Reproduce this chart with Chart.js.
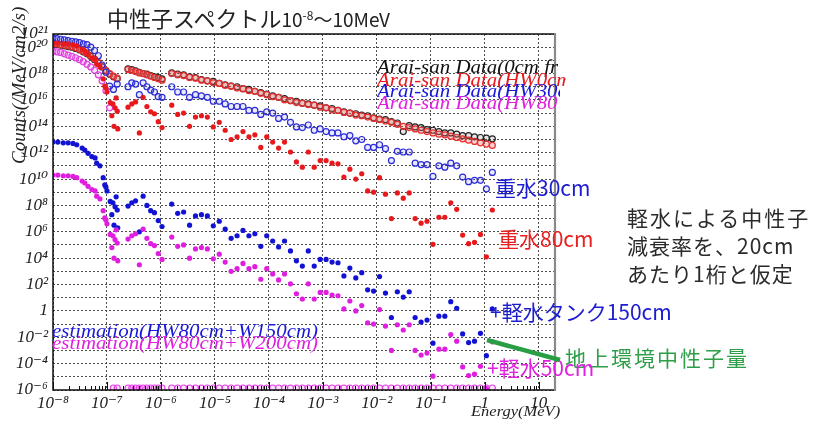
<!DOCTYPE html>
<html>
<head>
<meta charset="utf-8">
<script src="https://cdn.jsdelivr.net/npm/chart.js@4.4.1/dist/chart.umd.min.js"></script>
<style>
  body { margin: 0; background: #fff; width: 813px; height: 421px; overflow: hidden; position: relative; }
  canvas { position: absolute; left: 0; top: 0; }
  .txt { position: absolute; white-space: nowrap; line-height: 1; }
  .jp { font-family: 'Noto Sans CJK JP', 'Noto Sans', sans-serif; }
  .serif { font-family: 'Liberation Serif', 'DejaVu Serif', serif; font-style: italic; }
  .clip { position: absolute; overflow: hidden; height: 24px; }
  .wide { transform: scaleX(1.1); transform-origin: left top; }
</style>
</head>
<body>
<canvas id="spectrum" width="813" height="421"></canvas>

<div class="txt jp" style="left:107px; top:6px; font-size:22px; color:#222;">中性子スペクトル<span style="font-size:19px;">10<sup style="font-size:12px;">-8</sup>〜10MeV</span></div>

<div class="txt serif" style="left:9px; top:164px; font-size:19px; color:#222; transform-origin:left top; transform:rotate(-90deg);">Counts(/MeV/cm2/s)</div>
<div class="txt serif wide" style="left:471px; top:404px; font-size:15px; color:#222;">Energy(MeV)</div>

<div class="clip" style="left:377px; top:57px; width:181px;"><div class="txt serif wide" style="left:0; top:0; font-size:19px; color:#111;">Arai-san Data(0cm from</div></div>
<div class="clip" style="left:377px; top:70px; width:189px;"><div class="txt serif wide" style="left:0; top:0; font-size:19px; color:#e8191c;">Arai-san Data(HW0cm::</div></div>
<div class="clip" style="left:377px; top:81px; width:183px;"><div class="txt serif wide" style="left:0; top:0; font-size:19px; color:#1818dc;">Arai-san Data(HW30cm</div></div>
<div class="clip" style="left:377px; top:93px; width:181px;"><div class="txt serif wide" style="left:0; top:0; font-size:19px; color:#e020e0;">Arai-san Data(HW80cm</div></div>

<div class="txt serif wide" style="left:52px; top:321px; font-size:19px; color:#1818dc;">estimation(HW80cm+W150cm)</div>
<div class="txt serif wide" style="left:52px; top:333px; font-size:19px; color:#e020e0;">estimation(HW80cm+W200cm)</div>

<div class="txt jp" style="left:495px; top:177px; font-size:21px; color:#1c1cd0;">重水30cm</div>
<div class="txt jp" style="left:498px; top:228px; font-size:21px; color:#e82020;">重水80cm</div>
<div class="txt jp" style="left:627px; top:207px; font-size:21px; letter-spacing:2px; color:#2a2a2a;">軽水による中性子</div>
<div class="txt jp" style="left:627px; top:235px; font-size:21px; letter-spacing:1px; color:#2a2a2a;">減衰率を、20cm</div>
<div class="txt jp" style="left:627px; top:263px; font-size:21px; letter-spacing:1px; color:#2a2a2a;">あたり1桁と仮定</div>
<div class="txt jp" style="left:490px; top:301px; font-size:21px; color:#1c1cd0;">+軽水タンク150cm</div>
<div class="txt jp" style="left:565px; top:347px; font-size:21px; letter-spacing:2px; color:#2e9e48;">地上環境中性子量</div>
<div class="txt jp" style="left:487px; top:357px; font-size:21px; color:#e020e0;">+軽水50cm</div>

<svg style="position:absolute; left:0; top:0;" width="813" height="421">
  <line x1="487" y1="340" x2="560" y2="360" stroke="#2a9e45" stroke-width="4.5"/>
</svg>

<script>
// energies are log10(E / MeV), counts are log10(counts / MeV / cm2 / s)
const eLow = [-8.00, -7.93, -7.86, -7.79, -7.72, -7.65, -7.58, -7.51, -7.44, -7.37,
  -7.30, -7.23, -7.16, -7.09, -7.02, -6.95, -6.88, -6.81];
const eLowFilled = [-8.00, -7.91, -7.81, -7.72, -7.63, -7.56, -7.46, -7.41, -7.35, -7.28,
  -7.22, -7.19, -7.13, -7.07, -7.04, -7.02, -7.00, -6.94, -6.91, -6.89,
  -6.87, -6.85, -6.83, -6.81, -6.80];
const eMid = [-6.61, -6.54, -6.47, -6.40, -6.33, -6.26, -6.19, -6.12, -6.05, -5.98];
const eHigh = [-5.80, -5.69, -5.58, -5.47, -5.36, -5.25, -5.14, -5.03, -4.92, -4.81,
  -4.70, -4.59, -4.48, -4.37, -4.26, -4.15, -4.04, -3.93, -3.82, -3.71,
  -3.60, -3.49, -3.38, -3.27, -3.16, -3.05, -2.94, -2.83, -2.72, -2.61,
  -2.50, -2.39, -2.28, -2.17, -2.06, -1.95, -1.84, -1.73, -1.62, -1.51,
  -1.40, -1.29, -1.18, -1.07, -0.96, -0.85, -0.74, -0.63, -0.52, -0.41,
  -0.30, -0.19, -0.08, 0.03, 0.14];

// Arai-san Data (0cm from ...)  -- black open circles
const arai0cm = [20.2, 20.2, 20.15, 20.1, 20.05, 20.0, 19.9, 19.8, 19.65, 19.5,
  19.3, 19.05, 18.8, 18.5, 18.2, 17.95, 17.75, 17.6,
  18.35, 18.3, 18.2, 18.1, 18.0, 17.95, 17.85, 17.75, 17.7, 17.6,
  18.05, 17.95, 17.9, 17.75, 17.7, 17.55, 17.45, 17.4, 17.25, 17.15,
  17.05, 17.0, 16.85, 16.8, 16.65, 16.55, 16.45, 16.3, 16.2, 16.1,
  15.95, 15.9, 15.75, 15.7, 15.6, 15.55, 15.4, 15.35, 15.2, 15.1,
  15.0, 14.95, 14.85, 14.8, 14.65, 14.55, 14.5, 14.35, 14.25, 13.6,
  14.05, 13.95, 13.9, 13.75, 13.7, 13.6, 13.5, 13.5, 13.4, 13.3,
  13.3, 13.2, 13.15, 13.1, 13.05];
// Arai-san Data (HW0cm)  -- red open circles
const araiHW0 = [20.3, 20.25, 20.2, 20.15, 20.1, 20.05, 19.95, 19.85, 19.7, 19.55,
  19.35, 19.1, 18.85, 18.55, 18.25, 18.0, 17.8, 17.65,
  18.3, 18.25, 18.15, 18.05, 18.0, 17.9, 17.8, 17.7, 17.6, 17.5,
  18.0, 17.9, 17.85, 17.7, 17.65, 17.5, 17.45, 17.3, 17.25, 17.1,
  17.05, 16.9, 16.85, 16.7, 16.65, 16.5, 16.4, 16.25, 16.2, 16.0,
  15.95, 15.8, 15.75, 15.65, 15.6, 15.45, 15.4, 15.25, 15.2, 15.05,
  15.0, 14.85, 14.8, 14.7, 14.6, 14.5, 14.4, 14.3, 14.15, 14.0,
  13.9, 13.8, 13.7, 13.6, 13.5, 13.4, 13.35, 13.25, 13.15, 13.05,
  12.95, 12.85, 12.75, 12.65, 12.55];
// Arai-san Data (HW30cm)  -- blue open circles
const araiHW30 = [20.7, 20.65, 20.6, 20.55, 20.5, 20.45, 20.4, 20.35, 20.25, 20.2,
  20.0, 19.75, 19.35, 18.65, 18.1, 17.05, 16.8, 17.2,
  17.0, 17.3, 17.2, 16.4, 17.3, 17.0, 16.75, 16.6, 16.25, 16.2,
  17.0, 16.6, 16.6, 16.2, 16.4, 16.3, 16.2, 15.9, 15.9, 15.7,
  15.5, 15.5, 15.5, 15.2, 15.2, 14.9, 15.1, 15.0, 14.6, 14.7,
  14.3, 13.95, 13.9, 14.1, 13.7, 13.8, 13.6, 13.5, 13.5, 13.2,
  13.3, 12.9, 13.0, 12.4, 12.4, 12.6, 12.3, 11.4, 12.1, 12.05,
  12.05, 11.2, 11.1, 11.1, 10.2, 11.0, 10.9, 11.2, 11.0, 10.15,
  9.8, 9.9, 9.9, 9.25, 10.5];
// Arai-san Data (HW80cm)  -- magenta open circles, empty bins sit on the axis floor
const araiHW80 = [19.7, 19.65, 19.6, 19.5, 19.4, 19.3, 19.2, 19.05, 18.9, 18.7,
  18.5, 18.25, 17.9, 17.45, 16.7, 15.4, -5.85, -5.85,
  -5.85, -5.85, -5.85, -5.85, -5.85, -5.85, -5.85, -5.85, -5.85, -5.85,
  -5.85, -5.85, -5.85, -5.85, -5.85, -5.85, -5.85, -5.85, -5.85, -5.85,
  -5.85, -5.85, -5.85, -5.85, -5.85, -5.85, -5.85, -5.85, -5.85, -5.85,
  -5.85, -5.85, -5.85, -5.85, -5.85, -5.85, -5.85, -5.85, -5.85, -5.85,
  -5.85, -5.85, -5.85, -5.85, -5.85, -5.85, -5.85, -5.85, -5.85, -5.85,
  -5.85, -5.85, -5.85, -5.85, -5.85, -5.85, -5.85, -5.85, -5.85, -5.85,
  -5.85, -5.85, -5.85, -5.85, -5.85];

// heavy water 80cm  -- red dots
const heavy80 = [20.3, 20.3, 20.25, 20.25, 20.2, 20.1, 19.85, 19.7, 19.45, 19.2,
  19.1, 18.7, 18.5, 17.6, 17.05, 16.9, 16.6, 15.8, 14.8, 15.7,
  14.0, 15.4, 16.15, 15.15, 13.8,
  15.45, 15.7, 15.85, 13.5, 16.2, 15.5, 15.1, 14.95, 14.35, 13.9,
  15.6, 14.9, 15.0, 14.0, 14.7, 14.8, 14.7, 13.95, 14.3, 13.7,
  13.0, 13.2, 13.6, 13.2, 13.35, 12.4, 13.2, 12.8, 12.35, 12.8,
  12.05, 11.3, 10.9, 12.05, 10.9, 11.4, 11.4, 11.2, 11.15, 10.15,
  10.75, 10.0, 10.4, 9.1, 9.0, 10.1, 8.85, 7.0, 8.95, 8.55,
  8.95, 7.0, 6.65, 6.8, 5.05, 7.1, 7.1, 8.2, 7.7, 5.75,
  5.1, 5.2, 5.8, 4.1, 7.65];
// estimation(HW80cm+W150cm)  -- blue dots
const est150 = [12.8, 12.8, 12.75, 12.75, 12.7, 12.6, 12.35, 12.2, 11.95, 11.7,
  11.6, 11.2, 11.0, 10.1, 9.55, 9.4, 9.1, 8.3, 7.3, 8.2,
  6.5, 7.9, 8.65, 7.65, 6.3,
  7.95, 8.2, 8.35, 6.0, 8.7, 8.0, 7.6, 7.45, 6.85, 6.4,
  8.1, 7.4, 7.5, 6.5, 7.2, 7.3, 7.2, 6.45, 6.8, 6.2,
  5.5, 5.7, 6.1, 5.7, 5.85, 4.9, 5.7, 5.3, 4.85, 5.3,
  4.55, 3.8, 3.4, 4.55, 3.4, 3.9, 3.9, 3.7, 3.65, 2.65,
  3.25, 2.5, 2.9, 1.6, 1.5, 2.6, 1.35, -0.5, 1.45, 1.05,
  1.45, -0.5, -0.85, -0.7, -2.45, -0.4, -0.4, 0.7, 0.2, -1.75,
  -2.4, -2.3, -1.7, -3.4, 0.15];
// estimation(HW80cm+W200cm)  -- magenta dots
const est200 = [10.3, 10.3, 10.25, 10.25, 10.2, 10.1, 9.85, 9.7, 9.45, 9.2,
  9.1, 8.7, 8.5, 7.6, 7.05, 6.9, 6.6, 5.8, 4.8, 5.7,
  4.0, 5.4, 6.15, 5.15, 3.8,
  5.45, 5.7, 5.85, 3.5, 6.2, 5.5, 5.1, 4.95, 4.35, 3.9,
  5.6, 4.9, 5.0, 4.0, 4.7, 4.8, 4.7, 3.95, 4.3, 3.7,
  3.0, 3.2, 3.6, 3.2, 3.35, 2.4, 3.2, 2.8, 2.35, 2.8,
  2.05, 1.3, 0.9, 2.05, 0.9, 1.4, 1.4, 1.2, 1.15, 0.15,
  0.75, 0.0, 0.4, -0.9, -1.0, 0.1, -1.15, -3.0, -1.05, -1.45,
  -1.05, -3.0, -3.35, -3.2, -4.95, -2.9, -2.9, -1.8, -2.3, -4.25,
  -4.9, -4.8, -4.2, -5.9, -2.35];

const xDecades = [1e-8, 1e-7, 1e-6, 1e-5, 1e-4, 1e-3, 1e-2, 1e-1, 1, 10];
const yDecades = [1e-6, 1e-5, 1e-4, 1e-3, 1e-2, 1e-1, 1, 1e1, 1e2, 1e3, 1e4, 1e5, 1e6, 1e7,
  1e8, 1e9, 1e10, 1e11, 1e12, 1e13, 1e14, 1e15, 1e16, 1e17, 1e18, 1e19, 1e20, 1e21];
const yLabelExps = [21, 20, 18, 16, 14, 12, 10, 8, 6, 4, 2, 0, -2, -4, -6];

const SUP = {'-': '⁻', '0': '⁰', '1': '¹', '2': '²', '3': '³', '4': '⁴', '5': '⁵', '6': '⁶', '7': '⁷', '8': '⁸', '9': '⁹'};
function powLabel(exp) {
  if (exp === 0) return '1';
  if (exp === 1) return '10';
  return '10' + String(exp).split('').map(c => SUP[c]).join('');
}

const eOpen = eLow.concat(eMid, eHigh);
const eFilled = eLowFilled.concat(eMid, eHigh);
function toPoints(es, vs) {
  return es.map((e, i) => ({ x: Math.pow(10, e), y: Math.pow(10, vs[i]) }));
}
function openSet(label, vals, line, fill) {
  return { label: label, data: toPoints(eOpen, vals), pointRadius: 3, borderWidth: 1.2,
    borderColor: line, backgroundColor: fill, pointStyle: 'circle' };
}
function dotSet(label, vals, color) {
  return { label: label, data: toPoints(eFilled, vals), pointRadius: 2.6, borderWidth: 0,
    borderColor: color, backgroundColor: color, pointStyle: 'circle' };
}

const tickFont = { family: "'Liberation Serif', 'DejaVu Serif', serif", style: 'italic', size: 17 };

const framePlugin = {
  id: 'frame',
  afterDatasetsDraw(chart) {
    const { ctx, chartArea: a, scales } = chart;
    const x = scales.x;
    ctx.save();
    ctx.strokeStyle = '#111';
    ctx.lineWidth = 1;
    ctx.beginPath();
    xDecades.forEach(d => {
      for (let k = 2; k <= 9; k++) {
        const v = d * k;
        if (v > x.max) break;
        const px = Math.round(x.getPixelForValue(v)) + 0.5;
        ctx.moveTo(px, a.bottom);
        ctx.lineTo(px, a.bottom - 4);
      }
      const p = Math.round(x.getPixelForValue(d)) + 0.5;
      ctx.moveTo(p, a.bottom);
      ctx.lineTo(p, a.bottom - 8);
    });
    ctx.stroke();
    ctx.lineWidth = 1.5;
    ctx.beginPath();
    ctx.moveTo(a.right, a.top);
    ctx.lineTo(a.left, a.top);
    ctx.lineTo(a.left, a.bottom);
    ctx.lineTo(a.right, a.bottom);
    ctx.stroke();
    ctx.strokeStyle = '#8a8a8a';
    ctx.lineWidth = 2.2;
    ctx.beginPath();
    ctx.moveTo(a.right, a.top - 1);
    ctx.lineTo(a.right, a.bottom + 1);
    ctx.stroke();
    ctx.restore();
  }
};

new Chart(document.getElementById('spectrum'), {
  type: 'scatter',
  data: {
    datasets: [
      dotSet('estimation(HW80cm+W200cm)', est200, '#e01ee0'),
      dotSet('estimation(HW80cm+W150cm)', est150, '#1212d4'),
      dotSet('HW80cm', heavy80, '#e8191c'),
      openSet('Arai-san Data(HW80cm', araiHW80, '#e040e0', 'rgba(240,130,240,0.2)'),
      openSet('Arai-san Data(HW30cm', araiHW30, '#2c2cd6', 'rgba(110,110,240,0.15)'),
      openSet('Arai-san Data(HW0cm', araiHW0, '#e63030', 'rgba(245,110,110,0.3)'),
      openSet('Arai-san Data(0cm from', arai0cm, '#222', 'rgba(90,90,90,0.15)')
    ]
  },
  options: {
    responsive: false,
    animation: false,
    layout: { padding: { left: 0, top: 34, right: 258, bottom: 0 } },
    plugins: { legend: { display: false }, tooltip: { enabled: false } },
    scales: {
      x: {
        type: 'logarithmic',
        min: 1e-8,
        max: 20,
        afterBuildTicks: axis => { axis.ticks = xDecades.map(v => ({ value: v })); },
        afterFit: axis => { axis.height = 31; },
        ticks: {
          autoSkip: false, maxRotation: 0, padding: 3, color: '#222', font: tickFont,
          callback: v => powLabel(Math.round(Math.log10(v)))
        },
        grid: { color: '#3a3a3a', lineWidth: 0.9, drawTicks: false },
        border: { display: false, dash: [2, 2] }
      },
      y: {
        type: 'logarithmic',
        min: 1e-6,
        max: 1e21,
        afterBuildTicks: axis => { axis.ticks = yDecades.map(v => ({ value: v })); },
        afterFit: axis => { axis.width = 53; },
        ticks: {
          autoSkip: false, padding: 5, color: '#222', font: tickFont,
          callback: v => {
            const exp = Math.round(Math.log10(v));
            return yLabelExps.includes(exp) ? powLabel(exp) : '';
          }
        },
        grid: { color: '#3a3a3a', lineWidth: 0.9, drawTicks: false },
        border: { display: false, dash: [2, 2] }
      }
    }
  },
  plugins: [framePlugin]
});
</script>
</body>
</html>
